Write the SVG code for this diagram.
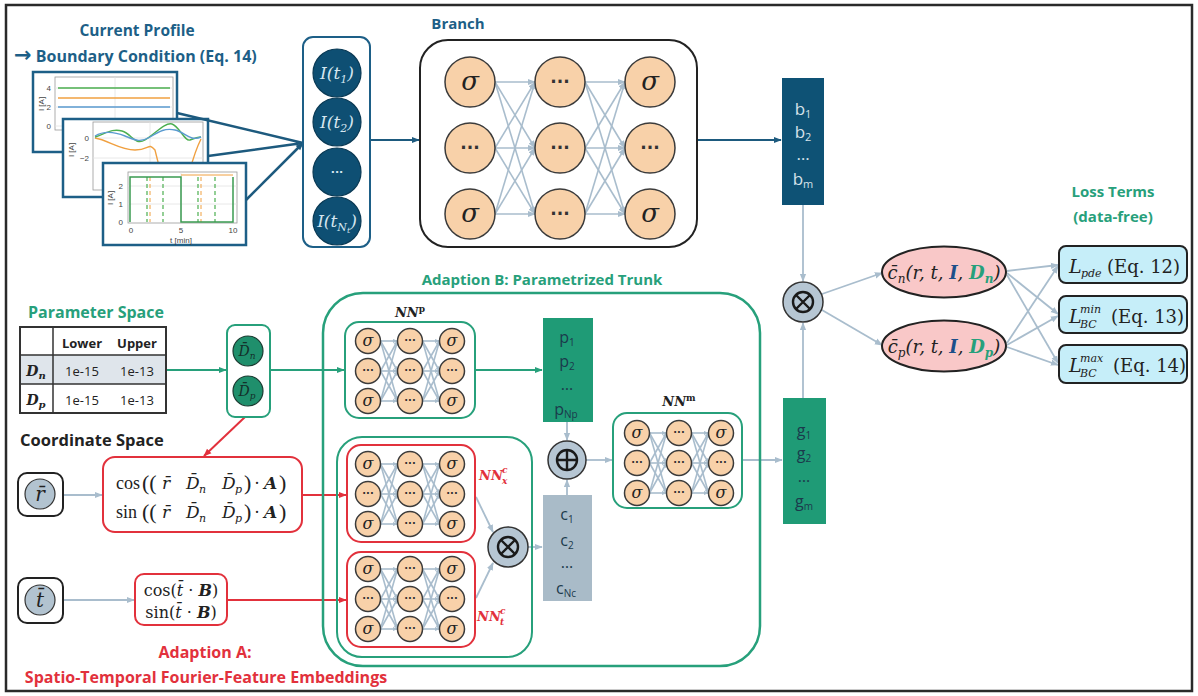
<svg xmlns="http://www.w3.org/2000/svg" width="1198" height="696" viewBox="0 0 1198 696">
<style>
.t{font-family:"Open Sans","Liberation Sans",sans-serif;font-weight:bold}
.blue{fill:#1d5f87}
.green{fill:#27a07b}
.red{fill:#e2313c}
.neuron{fill:#f8d1a9;stroke:#3b3b3b;stroke-width:1.5}
.link{stroke:#a9bdcd;stroke-width:1.6;fill:none}
.math{font-family:"DejaVu Serif","Liberation Serif",serif;font-style:italic}
.serif{font-family:"DejaVu Serif","Liberation Serif",serif}
.lserif{font-family:"Liberation Serif","DejaVu Serif",serif}
.sig{font-family:"DejaVu Serif","Liberation Serif",serif;font-style:italic;text-anchor:middle;fill:#222}
.dots{font-family:"DejaVu Sans",sans-serif;font-weight:bold;text-anchor:middle;fill:#333}
.vec{font-family:"Open Sans","Liberation Sans",sans-serif;text-anchor:middle}
.tick{font-family:"Liberation Sans",sans-serif;font-size:8px;fill:#444}
.gline{stroke:#a9bdcd;stroke-width:1.8;fill:none}
.opnode{fill:#b6c6d3;stroke:#333;stroke-width:1.5}
.op{stroke:#1a1a1a;stroke-width:2.4;fill:none}
</style>
<defs>
<marker id="ab" viewBox="0 0 10 10" refX="9" refY="5" markerWidth="8" markerHeight="8" markerUnits="userSpaceOnUse" orient="auto"><path d="M0,1 L10,5 L0,9z" fill="#1d5a7e"/></marker>
<marker id="ag" viewBox="0 0 10 10" refX="9" refY="5" markerWidth="8" markerHeight="8" markerUnits="userSpaceOnUse" orient="auto"><path d="M0,1 L10,5 L0,9z" fill="#27a07b"/></marker>
<marker id="ar" viewBox="0 0 10 10" refX="9" refY="5" markerWidth="8" markerHeight="8" markerUnits="userSpaceOnUse" orient="auto"><path d="M0,1 L10,5 L0,9z" fill="#e2313c"/></marker>
<marker id="ay" viewBox="0 0 10 10" refX="9" refY="5" markerWidth="8" markerHeight="8" markerUnits="userSpaceOnUse" orient="auto"><path d="M0,1 L10,5 L0,9z" fill="#a9bdcd"/></marker>
<marker id="as" viewBox="0 0 10 10" refX="9" refY="5" markerWidth="5" markerHeight="5" markerUnits="userSpaceOnUse" orient="auto"><path d="M0,1 L10,5 L0,9z" fill="#a9bdcd"/></marker>
<g id="snet">
<g class="link" stroke-width="1.4" marker-end="url(#as)">
<path d="M-29.5,-30 L-12.5,-30"/><path d="M-29.5,-30 L-12.5,0"/><path d="M-29.5,-30 L-12.5,30"/><path d="M-29.5,0 L-12.5,-30"/><path d="M-29.5,0 L-12.5,0"/><path d="M-29.5,0 L-12.5,30"/><path d="M-29.5,30 L-12.5,-30"/><path d="M-29.5,30 L-12.5,0"/><path d="M-29.5,30 L-12.5,30"/>
<path d="M12.5,-30 L29.5,-30"/><path d="M12.5,-30 L29.5,0"/><path d="M12.5,-30 L29.5,30"/><path d="M12.5,0 L29.5,-30"/><path d="M12.5,0 L29.5,0"/><path d="M12.5,0 L29.5,30"/><path d="M12.5,30 L29.5,-30"/><path d="M12.5,30 L29.5,0"/><path d="M12.5,30 L29.5,30"/>
</g>
<circle class="neuron" cx="-42" cy="-30" r="12.5"/><circle class="neuron" cx="-42" cy="0" r="12.5"/><circle class="neuron" cx="-42" cy="30" r="12.5"/>
<circle class="neuron" cx="0" cy="-30" r="12.5"/><circle class="neuron" cx="0" cy="0" r="12.5"/><circle class="neuron" cx="0" cy="30" r="12.5"/>
<circle class="neuron" cx="42" cy="-30" r="12.5"/><circle class="neuron" cx="42" cy="0" r="12.5"/><circle class="neuron" cx="42" cy="30" r="12.5"/>
<g class="sig" font-size="16"><text x="-42" y="-25">σ</text><text x="-42" y="35">σ</text><text x="42" y="-25">σ</text><text x="42" y="35">σ</text></g>
<g class="dots" font-size="10"><text x="-42" y="3">···</text><text x="0" y="-27">···</text><text x="0" y="3">···</text><text x="0" y="33">···</text><text x="42" y="3">···</text></g>
</g>
</defs>

<rect x="6" y="5" width="1186" height="686" fill="#fff" stroke="#2a2a2a" stroke-width="2.5"/>

<!-- Current profile -->
<g id="current-profile">
<text class="t blue" x="137" y="36" font-size="15.5" text-anchor="middle">Current Profile</text>
<text class="t blue" x="14" y="62" font-size="16"><tspan font-family="DejaVu Sans, sans-serif" font-size="21">→</tspan> Boundary Condition (Eq. 14)</text>
<g id="plot1">
<rect x="33" y="72" width="144" height="80" fill="#fff" stroke="#1d5f87" stroke-width="2.5"/>
<rect x="55" y="77" width="118" height="53" fill="none" stroke="#999" stroke-width="0.8"/>
<path d="M115,77 V130 M55,88 H173 M55,107 H173 M55,126 H173" stroke="#e2e2e2" stroke-width="0.8"/>
<path d="M58,88 H170" stroke="#4caf50" stroke-width="1.6"/>
<path d="M58,98 H170" stroke="#f0a040" stroke-width="1.6"/>
<path d="M58,107 H170" stroke="#5b9bd0" stroke-width="1.6"/>
<text class="tick" x="51" y="91" text-anchor="end">4</text>
<text class="tick" x="51" y="110" text-anchor="end">2</text>
<text class="tick" x="51" y="129" text-anchor="end">0</text>
<text class="tick" transform="translate(44,104) rotate(-90)" text-anchor="middle">I [A]</text>
</g>
<g id="plot2">
<rect x="63" y="119" width="145" height="78" fill="#fff" stroke="#1d5f87" stroke-width="2.5"/>
<rect x="93" y="122" width="110" height="68" fill="none" stroke="#999" stroke-width="0.8"/>
<path d="M150,122 V190 M93,138 H203 M93,158 H203" stroke="#e2e2e2" stroke-width="0.8"/>
<path d="M95,138 C108,140 120,150 135,150 S148,142 155,150 L165,190 M186,190 L190,170 C194,155 198,145 201,139" stroke="#f0a040" stroke-width="1.4" fill="none"/>
<path d="M95,137 C105,134 112,128 122,131 S135,146 145,140 S165,122 172,124 S185,142 190,140 S198,137 201,137" stroke="#4caf50" stroke-width="1.4" fill="none"/>
<path d="M95,136 C105,130 115,132 125,136 S140,143 150,137 S165,128 175,130 S190,142 201,137" stroke="#5b9bd0" stroke-width="1.4" fill="none"/>
<text class="tick" x="89" y="141" text-anchor="end">0</text>
<text class="tick" x="89" y="161" text-anchor="end">−2</text>
<text class="tick" transform="translate(74,150) rotate(-90)" text-anchor="middle">I [A]</text>
</g>
<g id="plot3">
<rect x="103" y="163" width="143" height="82" fill="#fff" stroke="#1d5f87" stroke-width="2.5"/>
<rect x="128" y="172" width="109" height="51" fill="none" stroke="#999" stroke-width="0.8"/>
<path d="M181,172 V223 M128,186 H237 M128,204 H237" stroke="#e2e2e2" stroke-width="0.8"/>
<path d="M181,175 H233" stroke="#f0a040" stroke-width="1"/>
<path d="M147,177 V222 M163,177 V222 M198,177 V222 M215,177 V222" stroke="#4caf50" stroke-width="1.2" stroke-dasharray="4 3"/>
<path d="M150,177 V222 M201,177 V222" stroke="#f0a040" stroke-width="1" stroke-dasharray="4 3"/>
<path d="M130,222 V177 H181 V222 H233 V177" stroke="#3a9a50" stroke-width="1.5" fill="none"/>
<text class="tick" x="123" y="189" text-anchor="end">2</text>
<text class="tick" x="123" y="207" text-anchor="end">1</text>
<text class="tick" x="123" y="225" text-anchor="end">0</text>
<text class="tick" x="131" y="233" text-anchor="middle">0</text>
<text class="tick" x="181" y="233" text-anchor="middle">5</text>
<text class="tick" x="233" y="233" text-anchor="middle">10</text>
<text class="tick" x="181" y="243" text-anchor="middle">t [min]</text>
<text class="tick" transform="translate(113,198) rotate(-90)" text-anchor="middle">I [A]</text>
</g>
</g>

<!-- Connectors -->
<g id="connectors">
<path d="M177,113 L303,143 M208,156 L303,143" stroke="#1d5a7e" stroke-width="2.5" fill="none"/>
<path d="M246,200 L303,143" stroke="#1d5a7e" stroke-width="2.5" fill="none" marker-end="url(#ab)"/>
<path d="M370,140 L419,140" stroke="#1d5a7e" stroke-width="2" marker-end="url(#ab)"/>
<path d="M697,140 L781,140" stroke="#1d5a7e" stroke-width="2" marker-end="url(#ab)"/>
<path d="M803,205 L803,281" class="gline" marker-end="url(#ay)"/>
<path d="M803,398 L803,323" class="gline" marker-end="url(#ay)"/>
<path d="M822,294 L882,273" class="gline" marker-end="url(#ay)"/>
<path d="M822,310 L882,345" class="gline" marker-end="url(#ay)"/>
<g class="gline" marker-end="url(#ay)">
<path d="M1007,271 L1058,265"/><path d="M1007,273 L1058,314"/><path d="M1007,275 L1058,363"/>
<path d="M1007,343 L1058,266"/><path d="M1007,345 L1058,316"/><path d="M1007,347 L1058,365"/>
</g>
<path d="M166,370 L226,370" stroke="#27a07b" stroke-width="2" marker-end="url(#ag)"/>
<path d="M270,370 L344,370" stroke="#27a07b" stroke-width="2" marker-end="url(#ag)"/>
<path d="M475,370 L542,370" stroke="#27a07b" stroke-width="2" marker-end="url(#ag)"/>
<path d="M245,417 L204,456" stroke="#e2313c" stroke-width="2" marker-end="url(#ar)"/>
<path d="M302,495 L346,495" stroke="#e2313c" stroke-width="2" marker-end="url(#ar)"/>
<path d="M227,600 L346,600" stroke="#e2313c" stroke-width="2" marker-end="url(#ar)"/>
<path d="M63,495 L102,495" class="gline" marker-end="url(#ay)"/>
<path d="M63,600 L134,600" class="gline" marker-end="url(#ay)"/>
<path d="M476,497 L493,532" class="gline" marker-end="url(#ay)"/>
<path d="M476,598 L493,563" class="gline" marker-end="url(#ay)"/>
<path d="M528,547 L542,547" class="gline" marker-end="url(#ay)"/>
<path d="M567,422 L567,440" class="gline" marker-end="url(#ay)"/>
<path d="M567,495 L567,480" class="gline" marker-end="url(#ay)"/>
<path d="M586,460 L612,460" class="gline" marker-end="url(#ay)"/>
<path d="M742,460 L782,460" class="gline" marker-end="url(#ay)"/>
</g>

<!-- Input column -->
<g id="input-samples">
<rect x="303" y="37" width="67" height="210" rx="10" fill="#fff" stroke="#1d5f87" stroke-width="2"/>
<g fill="#0e4f73" stroke="#0a3a55" stroke-width="1.2">
<circle cx="337" cy="73" r="24"/><circle cx="337" cy="122" r="24"/><circle cx="337" cy="172" r="24"/><circle cx="337" cy="221" r="24"/>
</g>
<g class="math" fill="#d5e6f0" font-size="17" text-anchor="middle">
<text x="337" y="79">I(t<tspan font-size="11" dy="4">1</tspan><tspan dy="-4">)</tspan></text>
<text x="337" y="128">I(t<tspan font-size="11" dy="4">2</tspan><tspan dy="-4">)</tspan></text>
<text x="337" y="227">I(t<tspan font-size="11" dy="4">N</tspan><tspan font-size="8" dy="2">t</tspan><tspan dy="-6">)</tspan></text>
</g>
<text class="dots" x="337" y="176" font-size="11" style="fill:#d5e6f0">···</text>
</g>

<!-- Branch -->
<g id="branch">
<text class="t blue" x="458" y="29" font-size="15" text-anchor="middle">Branch</text>
<rect x="420" y="40" width="277" height="207" rx="28" fill="#fff" stroke="#222" stroke-width="2"/>
<g class="link" marker-end="url(#ay)">
<path d="M495,82 L535,82"/><path d="M495,82 L535,148"/><path d="M495,82 L535,214"/>
<path d="M495,148 L535,82"/><path d="M495,148 L535,148"/><path d="M495,148 L535,214"/>
<path d="M495,214 L535,82"/><path d="M495,214 L535,148"/><path d="M495,214 L535,214"/>
<path d="M585,82 L625,82"/><path d="M585,82 L625,148"/><path d="M585,82 L625,214"/>
<path d="M585,148 L625,82"/><path d="M585,148 L625,148"/><path d="M585,148 L625,214"/>
<path d="M585,214 L625,82"/><path d="M585,214 L625,148"/><path d="M585,214 L625,214"/>
</g>
<circle class="neuron" cx="470" cy="82" r="25"/><circle class="neuron" cx="470" cy="148" r="25"/><circle class="neuron" cx="470" cy="214" r="25"/>
<circle class="neuron" cx="560" cy="82" r="25"/><circle class="neuron" cx="560" cy="148" r="25"/><circle class="neuron" cx="560" cy="214" r="25"/>
<circle class="neuron" cx="650" cy="82" r="25"/><circle class="neuron" cx="650" cy="148" r="25"/><circle class="neuron" cx="650" cy="214" r="25"/>
<g class="sig" font-size="26"><text x="470" y="90">σ</text><text x="470" y="222">σ</text><text x="650" y="90">σ</text><text x="650" y="222">σ</text></g>
<g class="dots" font-size="17"><text x="470" y="154">···</text><text x="560" y="88">···</text><text x="560" y="154">···</text><text x="560" y="220">···</text><text x="650" y="154">···</text></g>
</g>

<!-- b vector -->
<g id="branch-output">
<rect x="782" y="78" width="42" height="127" fill="#0e5275"/>
<g class="vec" fill="#d6e2ea" font-size="17">
<text x="803" y="115">b<tspan font-size="11" dy="3">1</tspan></text>
<text x="803" y="138">b<tspan font-size="11" dy="3">2</tspan></text>
<text x="803" y="160">…</text>
<text x="803" y="185">b<tspan font-size="11" dy="3">m</tspan></text>
</g>
</g>

<!-- product node -->
<g id="product-top">
<circle class="opnode" cx="803" cy="302" r="20"/>
<circle class="op" cx="803" cy="302" r="10"/>
<path class="op" d="M796,295 L810,309 M810,295 L796,309"/>
</g>

<!-- outputs -->
<g id="cn-output">
<ellipse cx="944" cy="272" rx="62" ry="25.5" fill="#f9c8c8" stroke="#222" stroke-width="2"/>
<text class="math" x="944" y="279" font-size="18" text-anchor="middle" fill="#222">c̄<tspan font-size="12" dy="4">n</tspan><tspan dy="-4">(r, t, </tspan><tspan font-weight="bold" fill="#1d4f8a">I</tspan>, <tspan font-weight="bold" fill="#27a07b">D<tspan font-size="12" dy="4">n</tspan></tspan><tspan dy="-4">)</tspan></text>
</g>
<g id="cp-output">
<ellipse cx="944" cy="346" rx="62" ry="25.5" fill="#f9c8c8" stroke="#222" stroke-width="2"/>
<text class="math" x="944" y="353" font-size="18" text-anchor="middle" fill="#222">c̄<tspan font-size="12" dy="4">p</tspan><tspan dy="-4">(r, t, </tspan><tspan font-weight="bold" fill="#1d4f8a">I</tspan>, <tspan font-weight="bold" fill="#27a07b">D<tspan font-size="12" dy="4">p</tspan></tspan><tspan dy="-4">)</tspan></text>
</g>

<!-- loss terms -->
<g id="loss-title">
<text class="t green" x="1113" y="197" font-size="15" text-anchor="middle">Loss Terms</text>
<text class="t green" x="1113" y="222" font-size="15" text-anchor="middle">(data-free)</text>
</g>
<g id="loss-pde">
<rect x="1059" y="246" width="128" height="37" rx="7" fill="#c6eef9" stroke="#222" stroke-width="2"/>
<text class="math" x="1069" y="273" font-size="19" fill="#222">L</text>
<text class="math" x="1081" y="277" font-size="11" fill="#222">pde</text>
<text class="serif" x="1107" y="273" font-size="18" fill="#222">(Eq. 12)</text>
</g>
<g id="loss-bc-min">
<rect x="1059" y="296" width="128" height="37" rx="7" fill="#c6eef9" stroke="#222" stroke-width="2"/>
<text class="math" x="1069" y="323" font-size="19" fill="#222">L</text>
<text class="math" x="1080" y="313" font-size="11" fill="#222">min</text>
<text class="math" x="1080" y="328" font-size="11" fill="#222">BC</text>
<text class="serif" x="1111" y="323" font-size="18" fill="#222">(Eq. 13)</text>
</g>
<g id="loss-bc-max">
<rect x="1059" y="345" width="128" height="38" rx="7" fill="#c6eef9" stroke="#222" stroke-width="2"/>
<text class="math" x="1069" y="372" font-size="19" fill="#222">L</text>
<text class="math" x="1080" y="362" font-size="11" fill="#222">max</text>
<text class="math" x="1080" y="377" font-size="11" fill="#222">BC</text>
<text class="serif" x="1113" y="372" font-size="18" fill="#222">(Eq. 14)</text>
</g>

<!-- parameter space -->
<g id="parameter-space">
<text class="t green" x="28" y="318" font-size="16">Parameter Space</text>
<rect x="20" y="355" width="146" height="29" fill="#dfe5eb"/>
<rect x="20" y="327" width="146" height="86" fill="none" stroke="#333" stroke-width="2"/>
<path d="M20,355 H166 M20,384 H166 M53,327 V413" stroke="#333" stroke-width="1.5"/>
<g class="t" font-size="13" text-anchor="middle" fill="#222">
<text x="82" y="348">Lower</text><text x="137" y="348">Upper</text>
</g>
<g font-family="Open Sans, Liberation Sans, sans-serif" font-size="13" text-anchor="middle" fill="#222">
<text x="82" y="376">1e-15</text><text x="137" y="376">1e-13</text>
<text x="82" y="405">1e-15</text><text x="137" y="405">1e-13</text>
</g>
<text class="math" x="36" y="376" font-size="14" font-weight="bold" text-anchor="middle" fill="#222">D<tspan font-size="10" dy="3">n</tspan></text>
<text class="math" x="36" y="405" font-size="14" font-weight="bold" text-anchor="middle" fill="#222">D<tspan font-size="10" dy="3">p</tspan></text>
</g>

<g id="param-input">
<rect x="227" y="325" width="43" height="92" rx="8" fill="#fff" stroke="#27a07b" stroke-width="2"/>
<circle cx="248" cy="351" r="15" fill="#1f8f6c" stroke="#1a3a30" stroke-width="1.2"/>
<circle cx="248" cy="391" r="15" fill="#1f8f6c" stroke="#1a3a30" stroke-width="1.2"/>
<text class="math" x="247" y="356" font-size="14" text-anchor="middle" fill="#13302a">D̄<tspan font-size="9" dy="3">n</tspan></text>
<text class="math" x="247" y="396" font-size="14" text-anchor="middle" fill="#13302a">D̄<tspan font-size="9" dy="3">p</tspan></text>
</g>

<!-- coordinate space -->
<text class="t" x="20" y="446" font-size="16.5" fill="#222">Coordinate Space</text>
<g id="r-input">
<rect x="18" y="473" width="45" height="43" rx="9" fill="#fff" stroke="#222" stroke-width="2"/>
<circle cx="40" cy="494" r="15" fill="#b2c3d0" stroke="#333" stroke-width="1.2"/>
<text class="math" x="40" y="501" font-size="20" text-anchor="middle" fill="#222">r̄</text>
</g>
<g id="t-input">
<rect x="18" y="578" width="45" height="45" rx="9" fill="#fff" stroke="#222" stroke-width="2"/>
<circle cx="40" cy="600" r="15" fill="#b2c3d0" stroke="#333" stroke-width="1.2"/>
<text class="math" x="40" y="607" font-size="20" text-anchor="middle" fill="#222">t̄</text>
</g>

<g id="fourier-r">
<rect x="103" y="457" width="199" height="75" rx="12" fill="#fff" stroke="#e2313c" stroke-width="2"/>
<g fill="#222" font-size="17">
<text class="lserif" x="116" y="489" font-size="18">cos</text><text class="lserif" x="142" y="490" font-size="22">((</text>
<text class="math" x="162" y="489">r̄</text>
<text class="math" x="186" y="489">D̄</text><text class="math" x="199" y="493" font-size="11">n</text>
<text class="math" x="222" y="489">D̄</text><text class="math" x="235" y="493" font-size="11">p</text>
<text class="lserif" x="244" y="490" font-size="22">)</text><text class="lserif" x="254" y="489" font-size="18">·</text>
<text class="math" x="264" y="489" font-weight="bold">A</text><text class="lserif" x="279" y="490" font-size="22">)</text>
<text class="lserif" x="116" y="518" font-size="18">sin</text><text class="lserif" x="142" y="519" font-size="22">((</text>
<text class="math" x="162" y="518">r̄</text>
<text class="math" x="186" y="518">D̄</text><text class="math" x="199" y="522" font-size="11">n</text>
<text class="math" x="222" y="518">D̄</text><text class="math" x="235" y="522" font-size="11">p</text>
<text class="lserif" x="244" y="519" font-size="22">)</text><text class="lserif" x="254" y="518" font-size="18">·</text>
<text class="math" x="264" y="518" font-weight="bold">A</text><text class="lserif" x="279" y="519" font-size="22">)</text>
</g>
</g>
<g id="fourier-t">
<rect x="135" y="574" width="92" height="51" rx="9" fill="#fff" stroke="#e2313c" stroke-width="2"/>
<text class="serif" x="181" y="596" font-size="16" text-anchor="middle" fill="#222">cos(<tspan font-style="italic">t̄</tspan> · <tspan font-style="italic" font-weight="bold">B</tspan>)</text>
<text class="serif" x="181" y="618" font-size="16" text-anchor="middle" fill="#222">sin(<tspan font-style="italic">t̄</tspan> · <tspan font-style="italic" font-weight="bold">B</tspan>)</text>
</g>
<g id="adaption-a-label">
<text class="t red" x="205" y="658" font-size="16" text-anchor="middle">Adaption A:</text>
<text class="t red" x="206" y="683" font-size="16" text-anchor="middle">Spatio-Temporal Fourier-Feature Embeddings</text>
</g>

<!-- trunk -->
<g id="trunk">
<text class="t green" x="542" y="285" font-size="15" text-anchor="middle">Adaption B: Parametrized Trunk</text>
<rect x="323" y="293" width="437" height="373" rx="40" fill="none" stroke="#27a07b" stroke-width="2.5"/>
<rect x="337" y="437" width="195" height="220" rx="25" fill="none" stroke="#27a07b" stroke-width="2"/>
</g>
<g id="nn-p">
<rect x="345" y="322" width="130" height="96" rx="14" fill="#fff" stroke="#27a07b" stroke-width="2"/>
<use href="#snet" x="410" y="371"/>
<text class="math" x="410" y="317" font-size="13" font-weight="bold" text-anchor="middle" fill="#222">NN<tspan font-size="9" dy="-5" font-style="normal">p</tspan></text>
</g>
<g id="nn-x">
<rect x="347" y="445" width="128" height="97" rx="14" fill="#fff" stroke="#e2313c" stroke-width="2"/>
<use href="#snet" x="410" y="494"/>
<text class="math red" x="479" y="480" font-size="13" font-weight="bold">NN</text>
<text class="math red" x="502" y="473" font-size="9" font-weight="bold">c</text>
<text class="math red" x="502" y="484" font-size="9" font-weight="bold">x</text>
</g>
<g id="nn-t">
<rect x="347" y="552" width="128" height="95" rx="14" fill="#fff" stroke="#e2313c" stroke-width="2"/>
<use href="#snet" x="410" y="599"/>
<text class="math red" x="477" y="621" font-size="13" font-weight="bold">NN</text>
<text class="math red" x="500" y="614" font-size="9" font-weight="bold">c</text>
<text class="math red" x="500" y="625" font-size="9" font-weight="bold">t</text>
</g>
<g id="product-c">
<circle class="opnode" cx="508" cy="547" r="20"/>
<circle class="op" cx="508" cy="547" r="10"/>
<path class="op" d="M501,540 L515,554 M515,540 L501,554"/>
</g>
<g id="p-vector">
<rect x="543" y="318" width="50" height="104" fill="#1f9b76"/>
<g class="vec" fill="#1b3a4c" font-size="16">
<text x="567" y="343">p<tspan font-size="10" dy="3">1</tspan></text>
<text x="567" y="367">p<tspan font-size="10" dy="3">2</tspan></text>
<text x="567" y="390">…</text>
<text x="566" y="415">p<tspan font-size="10" dy="3">Np</tspan></text>
</g>
</g>
<g id="c-vector">
<rect x="543" y="495" width="49" height="106" fill="#a9bbc8"/>
<g class="vec" fill="#1b3a4c" font-size="16">
<text x="567" y="520">c<tspan font-size="10" dy="3">1</tspan></text>
<text x="567" y="546">c<tspan font-size="10" dy="3">2</tspan></text>
<text x="567" y="568">…</text>
<text x="566" y="594">c<tspan font-size="10" dy="3">Nc</tspan></text>
</g>
</g>
<g id="sum-node">
<circle class="opnode" cx="567" cy="460" r="19"/>
<circle class="op" cx="567" cy="460" r="10"/>
<path class="op" d="M557,460 H577 M567,450 V470"/>
</g>
<g id="nn-m">
<rect x="613" y="413" width="129" height="95" rx="14" fill="#fff" stroke="#27a07b" stroke-width="2"/>
<use href="#snet" x="679" y="463"/>
<text class="math" x="679" y="406" font-size="13" font-weight="bold" text-anchor="middle" fill="#222">NN<tspan font-size="9" dy="-5" font-style="normal">m</tspan></text>
</g>
<g id="g-vector">
<rect x="783" y="398" width="43" height="126" fill="#1f9b76"/>
<g class="vec" fill="#1b3a4c" font-size="16">
<text x="804" y="436">g<tspan font-size="10" dy="3">1</tspan></text>
<text x="804" y="459">g<tspan font-size="10" dy="3">2</tspan></text>
<text x="804" y="482">…</text>
<text x="804" y="507">g<tspan font-size="10" dy="3">m</tspan></text>
</g>
</g>
</svg>
